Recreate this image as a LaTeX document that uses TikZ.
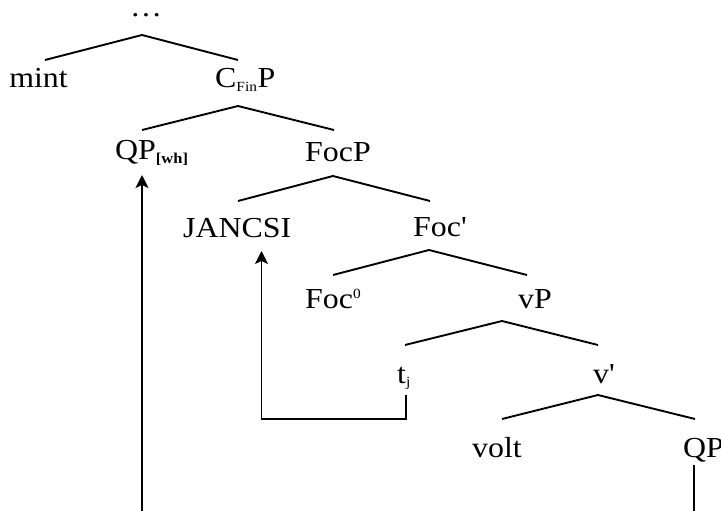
\documentclass[tikz,border=0pt]{standalone}
\usepackage{fontspec}
\setmainfont{Liberation Serif}[FakeStretch=1.1]
\usetikzlibrary{arrows.meta}
\begin{document}
\begin{tikzpicture}[x=1pt,y=-1pt,
  lbl/.style={inner sep=0pt, font=\fontsize{29}{32}\selectfont},
  br/.style={line width=1.9pt},
  mv/.style={line width=1.9pt},
  mvarrow/.style={line width=1.9pt,-{Stealth[length=13pt,width=13pt,inset=3pt]}}]
\useasboundingbox (0,0) rectangle (721,511);
% labels
\node[lbl,anchor=base] (top) at (146,17) {\dots};
\node[lbl,anchor=base] (mint) at (38.5,88) {mint};
\node[lbl,anchor=base west] (cfinp) at (215,88) {C\textsubscript{\fontsize{14}{14}\selectfont Fin}P};
\node[lbl,anchor=base west] (qpwh) at (115,160) {QP\textsubscript{\fontsize{15}{15}\selectfont\bfseries [wh]}};
\node[lbl,anchor=base west] (focp) at (305,161) {FocP};
\node[lbl,anchor=base west] (jancsi) at (183,237) {JANCSI};
\node[lbl,anchor=base west] (focbar) at (413,236) {Foc\textquotesingle};
\node[lbl,anchor=base west] (foc0) at (305,308) {Foc\textsuperscript{\fontsize{14}{14}\selectfont 0}};
\node[lbl,anchor=base west] (vp) at (518,308) {vP};
\node[lbl,anchor=base west] (tj) at (397,383) {t\textsubscript{\fontsize{14}{14}\selectfont j}};
\node[lbl,anchor=base west] (vbar) at (593,383) {v\textquotesingle};
\node[lbl,anchor=base west] (volt) at (472,457) {volt};
\node[lbl,anchor=base west] (qp) at (683,457) {QP};
% branch points
\coordinate (a1) at (142,35);  \coordinate (a1l) at (45,60);   \coordinate (a1r) at (238,60);
\coordinate (a2) at (238,106); \coordinate (a2l) at (142,130); \coordinate (a2r) at (334,130);
\coordinate (a3) at (333,176); \coordinate (a3l) at (238,201); \coordinate (a3r) at (430,201);
\coordinate (a4) at (429,250); \coordinate (a4l) at (333,275); \coordinate (a4r) at (527,275);
\coordinate (a5) at (502,321); \coordinate (a5l) at (405,345); \coordinate (a5r) at (598,345);
\coordinate (a6) at (598,395); \coordinate (a6l) at (502,419); \coordinate (a6r) at (695,419);
\foreach \p in {a1,a2,a3,a4,a5,a6}{\draw[br] (\p l) -- (\p) -- (\p r);}
% movement arrows
\coordinate (m1b) at (142,512);
\coordinate (m1t) at (142,175);
\draw[mvarrow] (m1b) -- (m1t);
\coordinate (m2s) at (406,395);
\coordinate (m2t) at (261.5,251);
\draw[mvarrow] (m2s) |- (261.5,419) -- (m2t);
\coordinate (m3s) at (694,465);
\coordinate (m3e) at (694,512);
\draw[mv] (m3s) -- (m3e);
\end{tikzpicture}
\end{document}
